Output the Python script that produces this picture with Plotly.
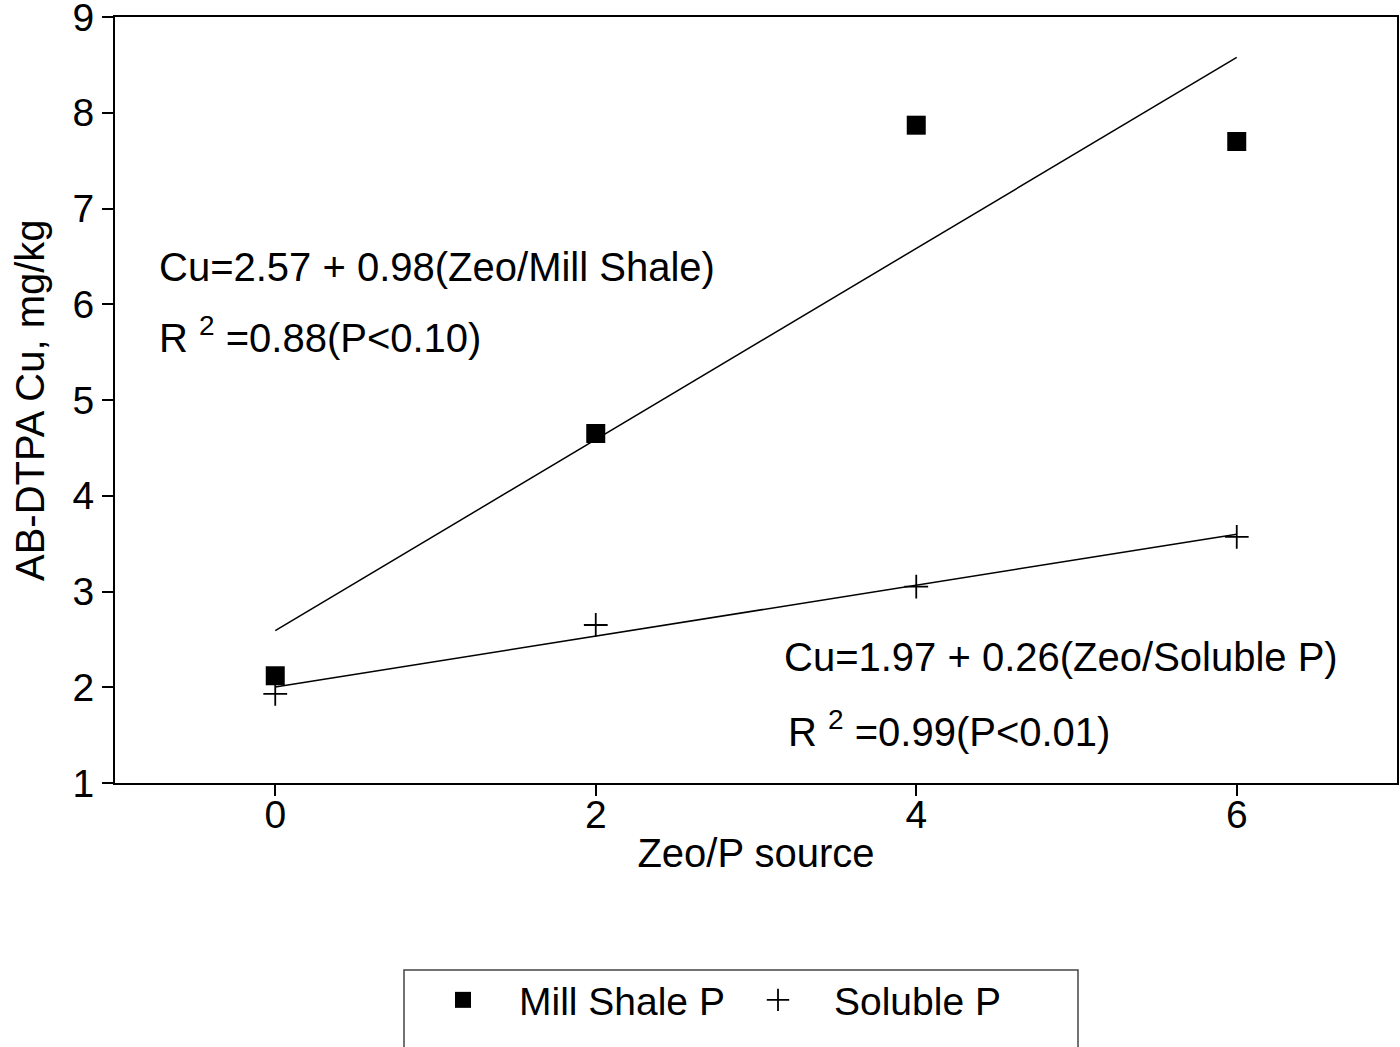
import numpy as np
import plotly.graph_objects as go

x_vals = [0, 2, 4, 6]
mill_shale = [2.12, 4.65, 7.87, 7.70]
soluble = [1.93, 2.65, 3.05, 3.57]
x_ticks = [0, 2, 4, 6]
y_ticks = [1, 2, 3, 4, 5, 6, 7, 8, 9]

FONT = "Liberation Sans, Arial, sans-serif"

fig = go.Figure()

fig.add_trace(go.Scatter(x=x_vals, y=mill_shale, mode="markers", name="Mill Shale P",
                         marker=dict(symbol="square", size=19, color="black")))
fig.add_trace(go.Scatter(x=x_vals, y=soluble, mode="markers", name="Soluble P",
                         marker=dict(symbol="cross-thin", size=17, color="black",
                                     line=dict(color="black", width=1.8))))

xs = np.array(x_vals, dtype=float)
for ys in (mill_shale, soluble):
    b, a = np.polyfit(xs, np.array(ys), 1)
    fig.add_trace(go.Scatter(x=[xs[0], xs[-1]], y=[a + b * xs[0], a + b * xs[-1]],
                             mode="lines", line=dict(color="black", width=1.5),
                             showlegend=False, hoverinfo="skip"))

ann_font = dict(family=FONT, size=40, color="black")
annots = [
    ("Cu=2.57 + 0.98(Zeo/Mill Shale)", -0.735, 6.39),
    ("R <sup>2</sup> =0.88(P<0.10)", -0.735, 5.68),
    ("Cu=1.97 + 0.26(Zeo/Soluble P)", 3.16, 2.32),
    ("R <sup>2</sup> =0.99(P<0.01)", 3.19, 1.56),
]
for t, ax_, ay_ in annots:
    fig.add_annotation(x=ax_, y=ay_, text=t, showarrow=False, xanchor="left",
                       yanchor="middle", font=ann_font)

# y-axis title placed as rotated text
fig.add_annotation(x=(30 - 115) / 1282, y=(783 - 400) / 766, xref="paper", yref="paper",
                   text="AB-DTPA Cu, mg/kg", textangle=-90, showarrow=False,
                   xanchor="center", yanchor="middle",
                   font=dict(family=FONT, size=40, color="black"))

fig.add_shape(type="rect", xref="paper", yref="paper",
              x0=(404 - 115) / 1282, x1=(1078 - 115) / 1282,
              y0=(783 - 1070) / 766, y1=(783 - 970) / 766,
              line=dict(color="#444", width=1.5))

fig.update_layout(
    width=1400, height=1047,
    margin=dict(l=115, r=3, t=17, b=264),
    paper_bgcolor="white", plot_bgcolor="white",
    font=dict(family=FONT, size=39, color="black"),
    showlegend=True,
    legend=dict(orientation="h", x=(407 - 115) / 1282, xanchor="left",
                y=(783 - 1000) / 766, yanchor="middle",
                font=dict(family=FONT, size=39, color="black"),
                entrywidth=198, entrywidthmode="pixels", itemwidth=102,
                bgcolor="rgba(0,0,0,0)"),
    xaxis=dict(range=[-1, 7], tickvals=x_ticks, ticks="outside", ticklen=11,
               tickwidth=1.5, tickcolor="black", showgrid=False, zeroline=False,
               showline=True, linecolor="black", linewidth=2, mirror=True,
               tickfont=dict(family=FONT, size=39), ticklabeloverflow="allow",
               ticklabelstandoff=-15, automargin=False,
               title=dict(text="Zeo/P source", font=dict(family=FONT, size=40), standoff=4)),
    yaxis=dict(range=[1, 9], tickvals=y_ticks, ticks="outside", ticklen=11,
               tickwidth=1.5, tickcolor="black", showgrid=False, zeroline=False,
               showline=True, linecolor="black", linewidth=2, mirror=True,
               tickfont=dict(family=FONT, size=39), ticklabeloverflow="allow",
               automargin=False),
)

fig.write_html("out.html")
